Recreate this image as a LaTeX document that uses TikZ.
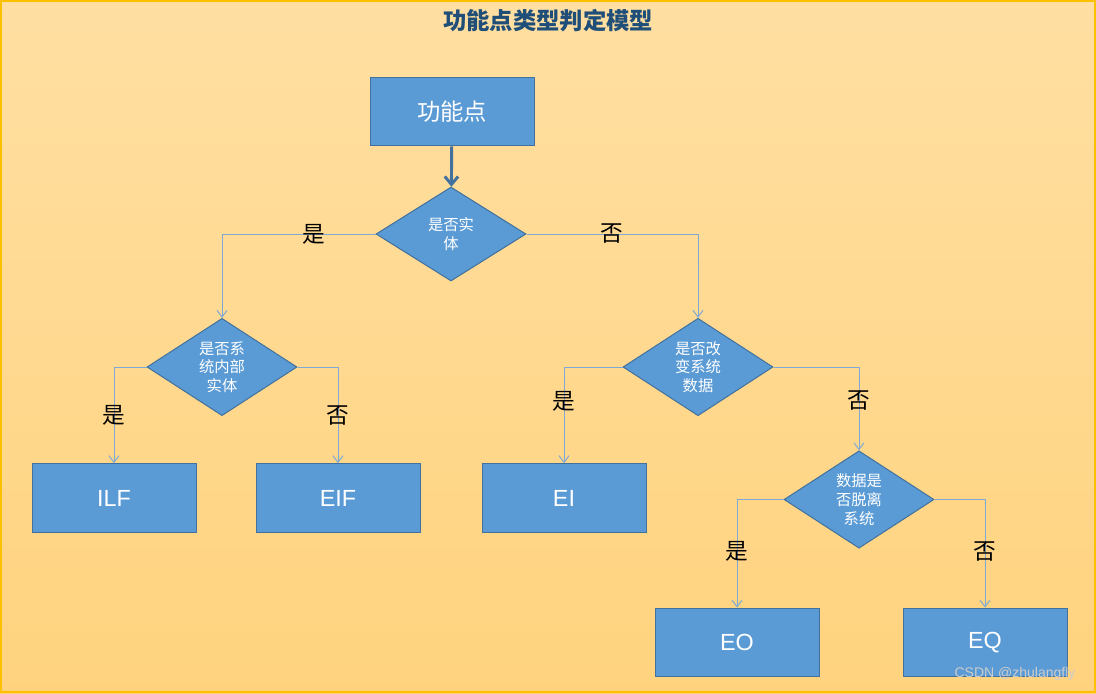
\documentclass[tikz,border=0pt]{standalone}
\usepackage{fontspec}
\setmainfont{Liberation Sans}
\newfontfamily\cjk{Noto Sans CJK SC}
\usetikzlibrary{arrows.meta,positioning,shapes.geometric}
\definecolor{boxblue}{HTML}{5B9BD5}
\definecolor{boxedge}{HTML}{41719C}
\definecolor{linkblue}{HTML}{7FA9D4}
\definecolor{titleblue}{HTML}{1F4E79}
\definecolor{bgtop}{HTML}{FFDFA2}
\definecolor{bgbot}{HTML}{FFD37E}
\definecolor{frameyel}{HTML}{FFC000}
\tikzset{
  result/.style={rectangle, draw=boxedge, line width=0.75pt, fill=boxblue, text=white,
    minimum width=123pt, minimum height=51.5pt, font=\fontsize{17.5}{20}\selectfont},
  decide/.style={diamond, draw=boxedge, line width=0.75pt, fill=boxblue, text=white,
    minimum width=112.5pt, minimum height=70.5pt, inner sep=0pt, align=center,
    font=\cjk\fontsize{11.5}{14}\selectfont},
  yn/.style={font=\cjk\fontsize{17}{17}\selectfont, text=black, inner sep=0pt},
  link/.style={-{Straight Barb[length=5pt,width=7.5pt]}, line width=0.75pt, draw=linkblue},
  mainlink/.style={-{Straight Barb[length=6pt,width=10pt]}, line width=2.2pt, draw=boxedge},
}
\begin{document}
\begin{tikzpicture}[x=0.75pt, y=-0.75pt]
  \useasboundingbox (0,0) rectangle (1096,693);
  \shade[top color=bgtop, bottom color=bgbot] (0,0) rectangle (1096,693);
  \draw[frameyel, line width=1.5pt] (0.75,0.75) rectangle (1095.25,692.25);

  \node[font=\cjk\bfseries\fontsize{17.5}{20}\selectfont, text=titleblue] (title) at (548,21) {功能点类型判定模型};

  \node[result, font=\cjk\fontsize{17.5}{20}\selectfont] (top) at (452,111.5) {功能点};
  \node[decide] (isent) at (451,234) {是否实\\体};
  \node[decide] (isint) at (222,367) {是否系\\统内部\\实体};
  \node[decide] (ischg) at (698,367) {是否改\\变系统\\数据};
  \node[decide] (isout) at (859,499.5) {数据是\\否脱离\\系统};
  \node[result] (ilf) at (114,498) {ILF};
  \node[result] (eif) at (338,498) {EIF};
  \node[result] (ei) at (564,498) {EI};
  \node[result] (eo) at (737,642.5) {EO};
  \node[result] (eq) at (985,642.5) {EQ};

  \draw[mainlink] (top) -- (isent);
  \draw[link] (isent.west) -| (isint.north) node[yn, pos=0.2] {是};
  \draw[link] (isent.east) -| (ischg.north) node[yn, pos=0.25] {否};
  \draw[link] (isint.west) -| (ilf.north) node[yn, pos=0.75] {是};
  \draw[link] (isint.east) -| (eif.north) node[yn, pos=0.75] {否};
  \draw[link] (ischg.west) -| (ei.north) node[yn, pos=0.68] {是};
  \draw[link] (ischg.east) -| (isout.north) node[yn, pos=0.7] {否};
  \draw[link] (isout.west) -| (eo.north) node[yn, pos=0.74] {是};
  \draw[link] (isout.east) -| (eq.north) node[yn, pos=0.74] {否};

  \node[font=\fontsize{10.5}{12}\selectfont, text=black!20] (mark) at (1015,674) {CSDN @zhulangfly};
\end{tikzpicture}
\end{document}
